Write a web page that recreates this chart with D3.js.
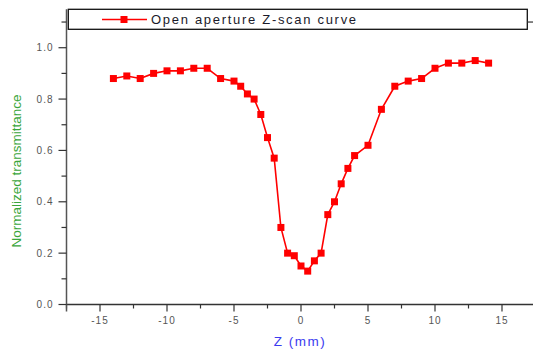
<!DOCTYPE html>
<html>
<head>
<meta charset="utf-8">
<script src="https://cdn.jsdelivr.net/npm/d3@7"></script>
<style>
  html, body { margin: 0; padding: 0; background: #fff; }
  svg { display: block; font-family: "Liberation Sans", Arial, sans-serif; }
</style>
</head>
<body>
<svg id="chart" width="533" height="352"></svg>
<script>
// Open aperture Z-scan: normalized transmittance vs sample position
const zPositions = [-14, -13, -12, -11, -10, -9, -8, -7, -6, -5, -4.5, -4, -3.5, -3, -2.5, -2, -1.5, -1, -0.5,
                    0, 0.5, 1, 1.5, 2, 2.5, 3, 3.5, 4, 5, 6, 7, 8, 9, 10, 11, 12, 13, 14];
const transmittance = [0.88, 0.89, 0.88, 0.90, 0.91, 0.91, 0.92, 0.92, 0.88, 0.87, 0.85, 0.82, 0.80, 0.74, 0.65, 0.57, 0.30, 0.20, 0.19,
                       0.15, 0.13, 0.17, 0.20, 0.35, 0.40, 0.47, 0.53, 0.58, 0.62, 0.76, 0.85, 0.87, 0.88, 0.92, 0.94, 0.94, 0.95, 0.94];
const xMajorTicks = [-15, -10, -5, 0, 5, 10, 15];
const yMajorTicks = [0.0, 0.2, 0.4, 0.6, 0.8, 1.0];
const seriesName = "Open aperture Z-scan curve";
const xTitle = "Z (mm)";
const yTitle = "Normalized transmittance";

const points = zPositions.map((z, i) => ({ z, t: transmittance[i] }));

const svg = d3.select("#chart");

const x = d3.scaleLinear().domain([-17.5, 17.5]).range([66.5, 535.5]);
const y = d3.scaleLinear().domain([0, 1.15]).range([304.5, 9.2]);

const axisColor = "#333";
const labelColor = "#555";

// X axis (bottom)
const xAxisG = svg.append("g").attr("transform", `translate(0,${y(0)})`);
xAxisG.append("line")
  .attr("x1", x(-17.5)).attr("x2", 533)
  .attr("stroke", axisColor).attr("stroke-width", 1.5);
xAxisG.selectAll(".xminor")
  .data(d3.range(-17.5, 17.6, 2.5).filter(v => !xMajorTicks.includes(v)))
  .enter().append("line")
  .attr("x1", d => x(d)).attr("x2", d => x(d))
  .attr("y1", 0).attr("y2", 4)
  .attr("stroke", axisColor).attr("stroke-width", 1.2);
xAxisG.selectAll(".xmajor")
  .data(xMajorTicks).enter().append("line")
  .attr("x1", d => x(d)).attr("x2", d => x(d))
  .attr("y1", 0).attr("y2", 7)
  .attr("stroke", axisColor).attr("stroke-width", 1.2);
xAxisG.selectAll(".xlabel")
  .data(xMajorTicks).enter().append("text")
  .attr("x", d => x(d)).attr("y", 19)
  .attr("text-anchor", "middle")
  .attr("font-size", 10).attr("letter-spacing", 1)
  .attr("fill", labelColor)
  .text(d => d3.format("d")(d).replace("−", "-"));

// Y axis (left)
const yAxisG = svg.append("g").attr("transform", `translate(${x(-17.5)},0)`);
yAxisG.append("line")
  .attr("y1", y(1.15)).attr("y2", y(0) + 7)
  .attr("stroke", "#555").attr("stroke-width", 1.5);
yAxisG.selectAll(".yminor")
  .data(d3.range(0.1, 1.15, 0.2))
  .enter().append("line")
  .attr("y1", d => y(d)).attr("y2", d => y(d))
  .attr("x1", -5).attr("x2", 0)
  .attr("stroke", axisColor).attr("stroke-width", 1.2);
yAxisG.selectAll(".ymajor")
  .data(yMajorTicks).enter().append("line")
  .attr("y1", d => y(d)).attr("y2", d => y(d))
  .attr("x1", -8).attr("x2", 0)
  .attr("stroke", axisColor).attr("stroke-width", 1.2);
yAxisG.selectAll(".ylabel")
  .data(yMajorTicks).enter().append("text")
  .attr("x", -13).attr("y", d => y(d) + 3.5)
  .attr("text-anchor", "end")
  .attr("font-size", 10).attr("letter-spacing", 1)
  .attr("fill", labelColor)
  .text(d => d3.format(".1f")(d));

// Axis titles
svg.append("text")
  .attr("transform", "translate(21,171) rotate(-90)")
  .attr("text-anchor", "middle")
  .attr("font-size", 13.5)
  .attr("fill", "#3aa63a")
  .text(yTitle);

svg.append("text")
  .attr("x", 300).attr("y", 346)
  .attr("text-anchor", "middle")
  .attr("font-size", 13.5).attr("letter-spacing", 1.5)
  .attr("fill", "#3b3bf0")
  .text(xTitle);

// Data curve
const line = d3.line().x(d => x(d.z)).y(d => y(d.t));
svg.append("path")
  .datum(points)
  .attr("d", line)
  .attr("fill", "none")
  .attr("stroke", "#ff0000")
  .attr("stroke-width", 1.6);

const m = 7;
svg.selectAll(".marker")
  .data(points).enter().append("rect")
  .attr("x", d => x(d.z) - m / 2)
  .attr("y", d => y(d.t) - m / 2)
  .attr("width", m).attr("height", m)
  .attr("fill", "#ff0000");

// Legend box
const legend = svg.append("g");
legend.append("rect")
  .attr("x", 68.3).attr("y", 9.3)
  .attr("width", 527.3 - 68.3).attr("height", 20)
  .attr("fill", "#fff")
  .attr("stroke", "#111").attr("stroke-width", 1.3);
legend.append("line")
  .attr("x1", 527.3).attr("x2", 533)
  .attr("y1", y(1.1)).attr("y2", y(1.1))
  .attr("stroke", axisColor).attr("stroke-width", 1.2);
legend.append("line")
  .attr("x1", 102).attr("x2", 147)
  .attr("y1", 19.5).attr("y2", 19.5)
  .attr("stroke", "#ff0000").attr("stroke-width", 1.6);
legend.append("rect")
  .attr("x", 124 - m / 2).attr("y", 19.5 - m / 2)
  .attr("width", m).attr("height", m)
  .attr("fill", "#ff0000");
legend.append("text")
  .attr("x", 151).attr("y", 24)
  .attr("font-size", 13).attr("letter-spacing", 1.7)
  .attr("fill", "#1a1a2a")
  .text(seriesName);
</script>
</body>
</html>
